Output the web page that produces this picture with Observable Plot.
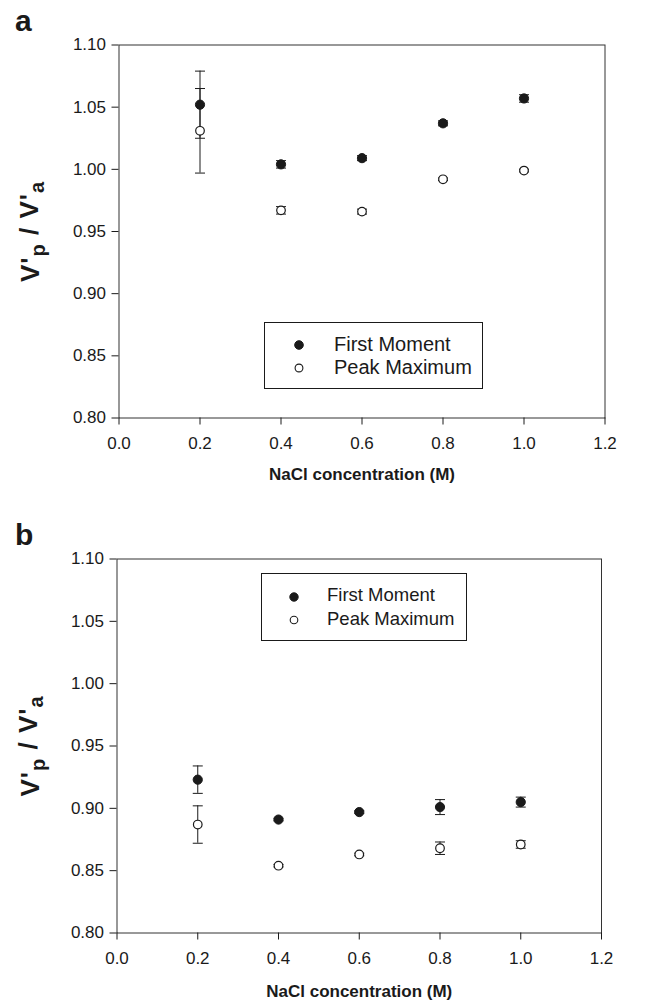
<!DOCTYPE html>
<html>
<head>
<meta charset="utf-8">
<script src="https://cdn.jsdelivr.net/npm/d3@7"></script>
<script src="https://cdn.jsdelivr.net/npm/@observablehq/plot@0.6"></script>
<style>
  html, body { margin: 0; padding: 0; background: #fff; }
  #root { position: relative; width: 666px; height: 1002px; font-family: "Liberation Sans", Arial, sans-serif; color: #1a1a1a; overflow: hidden; }
  .panel { position: absolute; left: 0; }
  .letter { position: absolute; font-weight: bold; font-size: 30px; line-height: 30px; }
  .legend { position: absolute; border: 1px solid #1a1a1a; background: #fff; box-sizing: border-box; }
  .legend .item { position: absolute; white-space: nowrap; line-height: 1; }
  .legend svg { position: absolute; overflow: visible; }
</style>
</head>
<body>
<div id="root"></div>
<script>
// ---- data ----
const conc = [0.2, 0.4, 0.6, 0.8, 1.0];
const aFirst    = [1.052, 1.004, 1.009, 1.037, 1.057];
const aFirstErr = [0.027, 0.003, 0.002, 0.002, 0.003];
const aPeak     = [1.031, 0.967, 0.966, 0.992, 0.999];
const aPeakErr  = [0.034, 0.003, 0.002, 0.001, 0.001];
const bFirst    = [0.923, 0.891, 0.897, 0.901, 0.905];
const bFirstErr = [0.011, 0.001, 0.001, 0.006, 0.004];
const bPeak     = [0.887, 0.854, 0.863, 0.868, 0.871];
const bPeakErr  = [0.015, 0.001, 0.001, 0.005, 0.003];
const xTicks = [0.0, 0.2, 0.4, 0.6, 0.8, 1.0, 1.2];
const yTicks = [0.80, 0.85, 0.90, 0.95, 1.00, 1.05, 1.10];
const seriesNames = ["First Moment", "Peak Maximum"];
const xTitle = "NaCl concentration (M)";
const yTitle = "V'p / V'a";

const ink = "#1a1a1a";
const font = "'Liberation Sans', Arial, sans-serif";
const capSymbol = {
  draw(ctx, size) {
    const r = Math.sqrt(size / Math.PI);
    ctx.moveTo(-r, 0);
    ctx.lineTo(r, 0);
  }
};

function makeRows(first, firstErr, peak, peakErr) {
  const rows = [];
  conc.forEach((x, i) => {
    rows.push({x, series: seriesNames[0], v: first[i], e: firstErr[i]});
    rows.push({x, series: seriesNames[1], v: peak[i], e: peakErr[i]});
  });
  return rows;
}

function panel(rows, m, titleDx) {
  const svg = Plot.plot({
    width: 666,
    height: 501,
    marginLeft: m.left,
    marginRight: m.right,
    marginTop: m.top,
    marginBottom: m.bottom,
    style: {fontSize: "17px", fontFamily: font, color: ink, background: "transparent", overflow: "visible"},
    x: {domain: [0, 1.2]},
    y: {domain: [0.8, 1.1]},
    marks: [
      Plot.frame({stroke: "#333", strokeWidth: 1}),
      Plot.axisX({ticks: xTicks, tickFormat: d3.format(".1f"), tickSize: 7, tickPadding: 12, fontSize: 17, fontFamily: font, fill: ink, stroke: ink, label: null}),
      Plot.axisY({ticks: yTicks, tickFormat: d3.format(".2f"), tickSize: 7, tickPadding: 6, fontSize: 17, fontFamily: font, fill: ink, stroke: ink, label: null}),
      Plot.ruleX(rows, {x: "x", y1: d => d.v - d.e, y2: d => d.v + d.e, stroke: ink, strokeWidth: 1}),
      Plot.dot(rows, {x: "x", y: d => d.v + d.e, symbol: capSymbol, r: 5, stroke: ink, strokeWidth: 1, fill: "none"}),
      Plot.dot(rows, {x: "x", y: d => d.v - d.e, symbol: capSymbol, r: 5, stroke: ink, strokeWidth: 1, fill: "none"}),
      Plot.dot(rows.filter(d => d.series === seriesNames[1]), {x: "x", y: "v", r: 4.3, fill: "#fff", stroke: ink, strokeWidth: 1.2}),
      Plot.dot(rows.filter(d => d.series === seriesNames[0]), {x: "x", y: "v", r: 4.6, fill: ink, stroke: ink, strokeWidth: 1}),
      Plot.text([xTitle], {frameAnchor: "bottom", dy: m.xTitleDy, textAnchor: "middle", lineAnchor: "middle", fontWeight: "bold", fontSize: 17, fontFamily: font, fill: ink}),
      Plot.text([yTitle], {frameAnchor: "left", dx: titleDx, textAnchor: "middle", lineAnchor: "middle", rotate: -90, fontWeight: "bold", fontSize: 26, fontFamily: font, fill: ink})
    ]
  });
  // subscripts in the y title
  d3.select(svg).selectAll("text").filter(function() { return this.textContent === yTitle; }).each(function() {
    const t = d3.select(this);
    t.text(null).attr("letter-spacing", "1px");
    t.append("tspan").text("V'");
    t.append("tspan").attr("dy", "0.3em").attr("font-size", "20px").text("p");
    t.append("tspan").attr("dy", "-0.3em").text(" / V'");
    t.append("tspan").attr("dy", "0.3em").attr("font-size", "20px").text("a");
  });
  return svg;
}

function legend(root, cfg) {
  const box = document.createElement("div");
  box.className = "legend";
  Object.assign(box.style, {left: cfg.left + "px", top: cfg.top + "px", width: cfg.w + "px", height: cfg.h + "px"});
  seriesNames.forEach((name, i) => {
    const cy = cfg.rows[i] - cfg.top;
    const ns = "http://www.w3.org/2000/svg";
    const s = document.createElementNS(ns, "svg");
    s.setAttribute("width", 1); s.setAttribute("height", 1);
    s.style.left = (cfg.markerX - cfg.left) + "px";
    s.style.top = cy + "px";
    const c = document.createElementNS(ns, "circle");
    c.setAttribute("r", i === 0 ? cfg.r : cfg.r - 0.4);
    c.setAttribute("fill", i === 0 ? ink : "#fff");
    c.setAttribute("stroke", ink);
    c.setAttribute("stroke-width", i === 0 ? 1 : 1.1);
    s.appendChild(c);
    box.appendChild(s);
    const t = document.createElement("div");
    t.className = "item";
    t.textContent = name;
    Object.assign(t.style, {left: (cfg.textX - cfg.left) + "px", top: (cy - cfg.fontSize * 0.5 - 1) + "px", fontSize: cfg.fontSize + "px"});
    box.appendChild(t);
  });
  root.appendChild(box);
}

const root = document.getElementById("root");

const pa = document.createElement("div");
pa.className = "panel"; pa.style.top = "0px";
pa.appendChild(panel(makeRows(aFirst, aFirstErr, aPeak, aPeakErr),
  {left: 118.5, right: 61.5, top: 44.5, bottom: 83.5, xTitleDy: 57}, -88));
root.appendChild(pa);

const pb = document.createElement("div");
pb.className = "panel"; pb.style.top = "501px";
pb.appendChild(panel(makeRows(bFirst, bFirstErr, bPeak, bPeakErr),
  {left: 116.5, right: 65, top: 57.5, bottom: 69.5, xTitleDy: 59}, -86.5));
root.appendChild(pb);

legend(root, {left: 264, top: 322, w: 219, h: 67, markerX: 298, textX: 333, rows: [343.5, 366.5], fontSize: 20, r: 4.3});
legend(root, {left: 261, top: 573, w: 206, h: 68, markerX: 293, textX: 326, rows: [595.5, 619], fontSize: 18.5, r: 4.2});

const la = document.createElement("div");
la.className = "letter"; la.textContent = "a";
Object.assign(la.style, {left: "15px", top: "6px"});
root.appendChild(la);
const lb = document.createElement("div");
lb.className = "letter"; lb.textContent = "b";
Object.assign(lb.style, {left: "15px", top: "520px"});
root.appendChild(lb);
</script>
</body>
</html>
